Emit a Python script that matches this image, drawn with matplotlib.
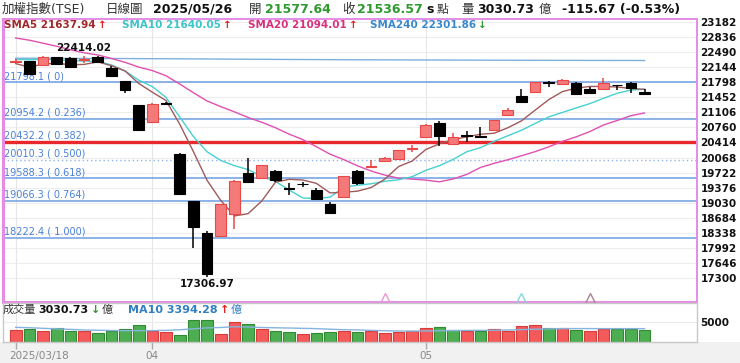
import numpy as np
import matplotlib
matplotlib.use("Agg")
import matplotlib.pyplot as plt
from matplotlib.patches import Rectangle

plt.rcParams['font.family'] = ['DejaVu Sans', 'Noto Sans CJK TC']

# ---------------- data ----------------
opens = [22265, 22289, 22195, 22375, 22360, 22320, 22375, 22121, 21828, 21274,
         20889, 21320, 20160, 19066, 18337, 18259, 18776, 19705, 19606, 19751,
         19370, 19460, 19329, 19005, 19158, 19758, 19860, 19990, 20028, 20265,
         20529, 20852, 20368, 20575, 20560, 20697, 21043, 21482, 21567, 21800,
         21751, 21790, 21636, 21636, 21740, 21775, 21577.64]
highs = [22330, 22300, 22400, 22390, 22380, 22414.02, 22400, 22170, 21840, 21280,
         21330, 21340, 20170, 19070, 18380, 19000, 19540, 20050, 19900, 19770,
         19480, 19510, 19365, 19040, 19650, 19770, 20005, 20080, 20250, 20350,
         20830, 20900, 20640, 20680, 20770, 20940, 21200, 21640, 21810, 21840,
         21870, 21815, 21700, 21890, 21745, 21800, 21650]
lows = [22250, 21960, 22190, 22215, 22130, 22250, 22260, 21920, 21555, 20680,
        20880, 21280, 19200, 17976, 17306.97, 18240, 18410, 19480, 19590, 19505,
        19198, 19390, 19090, 18775, 19140, 19430, 19855, 19980, 20020, 20197,
        20520, 20328, 20360, 20427, 20550, 20690, 21035, 21330, 21560, 21696,
        21745, 21510, 21530, 21630, 21620, 21560, 21530]
closes = [22300, 21982, 22388, 22227, 22160, 22335, 22273, 21950, 21620, 20697,
          21298, 21310, 19232, 18460, 17391.76, 18996, 19528.77, 19498, 19890, 19560,
          19352, 19451, 19106, 18790, 19636, 19482, 19867, 20068, 20236, 20275,
          20813, 20560, 20546, 20565, 20555, 20928, 21159, 21337, 21798, 21790,
          21851, 21530, 21550, 21790, 21735, 21673, 21536.57]
prev_close = 22240

sma5 = [22230, 22150, 22220, 22240, 22204, 22212, 22271, 22183, 22062, 21774,
        21571, 21379, 20835, 20203, 19542, 19079, 18722, 18775, 19066, 19499,
        19566, 19550, 19472, 19252, 19267, 19293, 19376, 19569, 19858, 19986,
        20252, 20384, 20480, 20544, 20604, 20627, 20753, 20912, 21159, 21402,
        21587, 21664, 21705, 21704, 21693, 21657, 21637.94]
sma10 = [22330, 22320, 22330, 22320, 22300, 22290, 22280, 22200, 22060, 21850,
         21700, 21450, 21000, 20550, 20200, 20000, 19880, 19790, 19632, 19518,
         19322, 19136, 19123, 19156, 19381, 19429, 19463, 19520, 19555, 19626,
         19772, 19880, 20024, 20201, 20295, 20440, 20569, 20696, 20852, 21003,
         21107, 21209, 21309, 21432, 21548, 21622, 21640.05]
sma20 = [22820, 22770, 22700, 22630, 22550, 22480, 22430, 22350, 22260, 22150,
         22070, 21950, 21760, 21560, 21370, 21240, 21120, 20990, 20880, 20754,
         20607, 20480, 20316, 20144, 20019, 19877, 19757, 19663, 19593, 19572,
         19547, 19508, 19574, 19679, 19838, 19935, 20016, 20108, 20203, 20315,
         20440, 20544, 20666, 20816, 20921, 21031, 21094.01]
sma240 = [22355, 22354, 22353, 22352, 22351, 22350, 22349, 22348, 22347, 22345,
          22344, 22343, 22341, 22339, 22337, 22335, 22333, 22331, 22330, 22328,
          22326, 22325, 22323, 22322, 22320, 22319, 22318, 22317, 22316, 22315,
          22314, 22313, 22312, 22311, 22310, 22309, 22308, 22307, 22306, 22306,
          22305, 22305, 22304, 22304, 22303, 22303, 22301.86]

volumes = [3040, 3300, 2860, 3480, 2700, 2700, 2340, 2860, 3380, 4340,
           2860, 2440, 1740, 5640, 5640, 1920, 5200, 4600, 3220, 2860,
           2600, 1920, 2180, 2600, 2860, 2600, 2860, 2180, 2440, 2860,
           3480, 3900, 3120, 2860, 2700, 3220, 2860, 4160, 4340, 3480,
           3480, 3120, 2780, 3220, 3220, 3220, 3030.73]
vol_ma10 = [3740, 3640, 3480, 3350, 3200, 3050, 2980, 2920, 2880, 2870,
            2880, 2950, 3100, 3350, 3600, 3700, 3900, 3800, 3700, 3620,
            3560, 3480, 3400, 3250, 3120, 3060, 2950, 2850, 2780, 2760,
            2800, 2860, 2900, 2930, 2950, 2980, 3050, 3150, 3250, 3330,
            3400, 3420, 3410, 3400, 3400, 3400, 3394.28]

fib_levels = [21798.1, 20954.2, 20432.2, 20010.3, 19588.3, 19066.3, 18222.4]
fib_ratios = ["0", "0.236", "0.382", "0.500", "0.618", "0.764", "1.000"]

y_ticks = [23182, 22836, 22490, 22144, 21798, 21452, 21106, 20760, 20414,
           20068, 19722, 19376, 19030, 18684, 18338, 17992, 17646, 17300]
date_ticks = [0, 10, 30]
date_labels = ["2025/03/18", "04", "05"]
high_idx, high_val = 5, 22414.02
low_idx, low_val = 14, 17306.97
cross_marks = [(27, '#e59ad2'), (37, '#7fd8d8'), (42, '#b08090')]

# ---------------- figure ----------------
W, H = 740, 363
fig = plt.figure(figsize=(W / 100, H / 100), dpi=100)
fig.patch.set_facecolor('white')
fig.patches.append(Rectangle((0, 0), 1, 21 / H, transform=fig.transFigure,
                             facecolor='#f1f1f1', edgecolor='none', zorder=-5))

ax = fig.add_axes([3 / W, 1 - 301.7 / H, 694 / W, (301.7 - 19) / H])
vax = fig.add_axes([3 / W, 1 - 341.7 / H, 694 / W, (341.7 - 302.5) / H])

n = len(closes)
x = np.arange(n)
xlim = (-0.929, 49.84)
ax.set_xlim(*xlim)
vax.set_xlim(*xlim)
ax.set_ylim(16747, 23258)
vax.set_ylim(0, 10200)

# grid
for yv in y_ticks:
    ax.axhline(yv, color='#ededed', lw=0.8, zorder=0)
for xv in date_ticks:
    ax.axvline(xv, color='#e6e6e6', lw=0.8, zorder=0)
    vax.axvline(xv, color='#e6e6e6', lw=0.8, zorder=0)
vax.axhline(5000, color='#ececec', lw=0.8, zorder=0)

# fib lines
for lv, r in zip(fib_levels, fib_ratios):
    if r == "0.382":
        ax.axhline(lv, color='#e8282d', lw=2.4, zorder=1)
    elif r == "0.500":
        ax.axhline(lv, color='#8fb3ea', lw=1.0, ls=(0, (1, 2)), zorder=1)
    else:
        ax.axhline(lv, color='#6e9fe2', lw=1.1, zorder=1)
    ax.text(0.0015, lv + 25, f"{lv:.1f} ( {r})", transform=ax.get_yaxis_transform(),
            color='#4a80d8', fontsize=7, ha='left', va='bottom', zorder=2)

# moving averages
ax.plot(x, sma240, color='#7fb0dc', lw=1.0, zorder=3)
ax.plot(x, sma20, color='#e050b0', lw=1.0, zorder=3)
ax.plot(x, sma10, color='#48d0d0', lw=1.0, zorder=3)
ax.plot(x, sma5, color='#a05a5a', lw=1.0, zorder=3)

# candles
bw = 0.78
for i in range(n):
    o, h, l, c = opens[i], highs[i], lows[i], closes[i]
    up = c >= o
    col = '#e84848' if up else '#000000'
    face = '#f47a7a' if up else '#000000'
    ax.vlines(i, l, h, color=col, lw=1.1, zorder=4)
    body = max(abs(c - o), 18)
    ax.bar(i, body, bottom=min(o, c) if abs(c - o) >= 18 else (o + c) / 2 - 9,
           width=bw, color=face, edgecolor=col, lw=0.8, zorder=5)

ax.annotate(f"{high_val:.2f}", xy=(high_idx, high_val), xytext=(0, 2),
            textcoords='offset points', ha='center', va='bottom',
            fontsize=7.5, fontweight='bold', color='#111')
ax.annotate(f"{low_val:.2f}", xy=(low_idx, low_val), xytext=(0, -1),
            textcoords='offset points', ha='center', va='top',
            fontsize=7.5, fontweight='bold', color='#111')

for xi, cc in cross_marks:
    ax.plot(xi, 16830, marker='^', ms=7, mfc='none', mec=cc, mew=1.0, zorder=6,
            clip_on=False)

# axes styling main
ax.set_xticks([])
ax.yaxis.tick_right()
ax.set_yticks(y_ticks)
ax.set_yticklabels([str(v) for v in y_ticks])
ax.tick_params(axis='y', length=0, pad=2.5, labelsize=7.5)
for lb in ax.get_yticklabels():
    lb.set_fontweight('bold')
    lb.set_color('#111')
for sp in ax.spines.values():
    sp.set_color('#e58be5')
    sp.set_linewidth(1.4)
ax.spines['left'].set_linewidth(2.2)

# volume
vcols_face, vcols_edge = [], []
for i in range(n):
    pc = prev_close if i == 0 else closes[i - 1]
    if closes[i] >= pc:
        vcols_face.append('#f45a5a'); vcols_edge.append('#d83a3a')
    else:
        vcols_face.append('#4cae50'); vcols_edge.append('#2f8a33')
vax.bar(x, volumes, width=0.85, color=vcols_face, edgecolor=vcols_edge, lw=0.8, zorder=2)
vax.plot(x, vol_ma10, color='#86b4de', lw=1.0, zorder=3)

vax.yaxis.tick_right()
vax.set_yticks([5000])
vax.set_yticklabels(['5000'])
vax.tick_params(axis='y', length=0, pad=2.5, labelsize=7.5)
for lb in vax.get_yticklabels():
    lb.set_fontweight('bold')
    lb.set_color('#111')
vax.set_xticks(date_ticks)
vax.set_xticklabels([''] + date_labels[1:])
vax.tick_params(axis='x', length=5, width=1, color='#aaaaaa', labelcolor='#888888',
                labelsize=7.5, pad=2)
for sp in vax.spines.values():
    sp.set_color('#c8c8c8')
    sp.set_linewidth(1.0)
fig.text(9 / W, 1 - 356.5 / H, date_labels[0], color='#888888', fontsize=7.5,
         ha='left', va='center')

# ---------------- text rows ----------------
fig.canvas.draw()
renderer = fig.canvas.get_renderer()


def run(x0, y, parts, gap=1.0):
    xx = x0
    for txt, kw in parts:
        t = fig.text(xx / W, 1 - y / H, txt, ha='left', va='center', **kw)
        bb = t.get_window_extent(renderer)
        xx += bb.width + gap
    return xx


green = '#2e9a2e'
cjk = dict(fontsize=9, color='#333333')
run(2, 9.5, [("加權指數(TSE)", cjk)])
run(106, 9.5, [("日線圖", cjk)])
run(153, 9.5, [("2025/05/26", dict(fontsize=9, fontweight='bold', color='#111'))])
run(249, 9.5, [("開", cjk), ("21577.64", dict(fontsize=9, fontweight='bold', color=green))], gap=3)
run(342, 9.5, [("收", cjk), ("21536.57", dict(fontsize=9, fontweight='bold', color=green)),
               ("s", dict(fontsize=9, fontweight='bold', color='#111')),
               ("點", dict(fontsize=8.5, color='#333333'))], gap=3)
run(461, 9.5, [("量", cjk), ("3030.73", dict(fontsize=9, fontweight='bold', color='#111')),
               ("億", cjk)], gap=4)
run(562, 9.5, [("-115.67 (-0.53%)", dict(fontsize=9, fontweight='bold', color='#111'))])

lg = dict(fontsize=7.5, fontweight='bold')
run(4, 25, [("SMA5 21637.94", dict(lg, color='#a0282a')), ("↑", dict(lg, color='#e02020'))], gap=2)
run(122, 25, [("SMA10 21640.05", dict(lg, color='#3cc4c8')), ("↑", dict(lg, color='#e02020'))], gap=2)
run(248, 25, [("SMA20 21094.01", dict(lg, color='#d8307c')), ("↑", dict(lg, color='#e02020'))], gap=2)
run(370, 25, [("SMA240 22301.86", dict(lg, color='#3a88cc')), ("↓", dict(lg, color='#2e9a2e'))], gap=2)

run(3, 310, [("成交量", dict(fontsize=8, color='#333333')),
             ("3030.73", dict(fontsize=8, fontweight='bold', color='#111')),
             ("↓", dict(fontsize=8, fontweight='bold', color='#2e9a2e')),
             ("億", dict(fontsize=8, color='#333333'))], gap=2)
run(128, 310, [("MA10 3394.28", dict(fontsize=8, fontweight='bold', color='#2f7fc2')),
               ("↑", dict(fontsize=8, fontweight='bold', color='#e02020')),
               ("億", dict(fontsize=8, color='#2f7fc2'))], gap=2)

fig.savefig('out.png', dpi=100)
